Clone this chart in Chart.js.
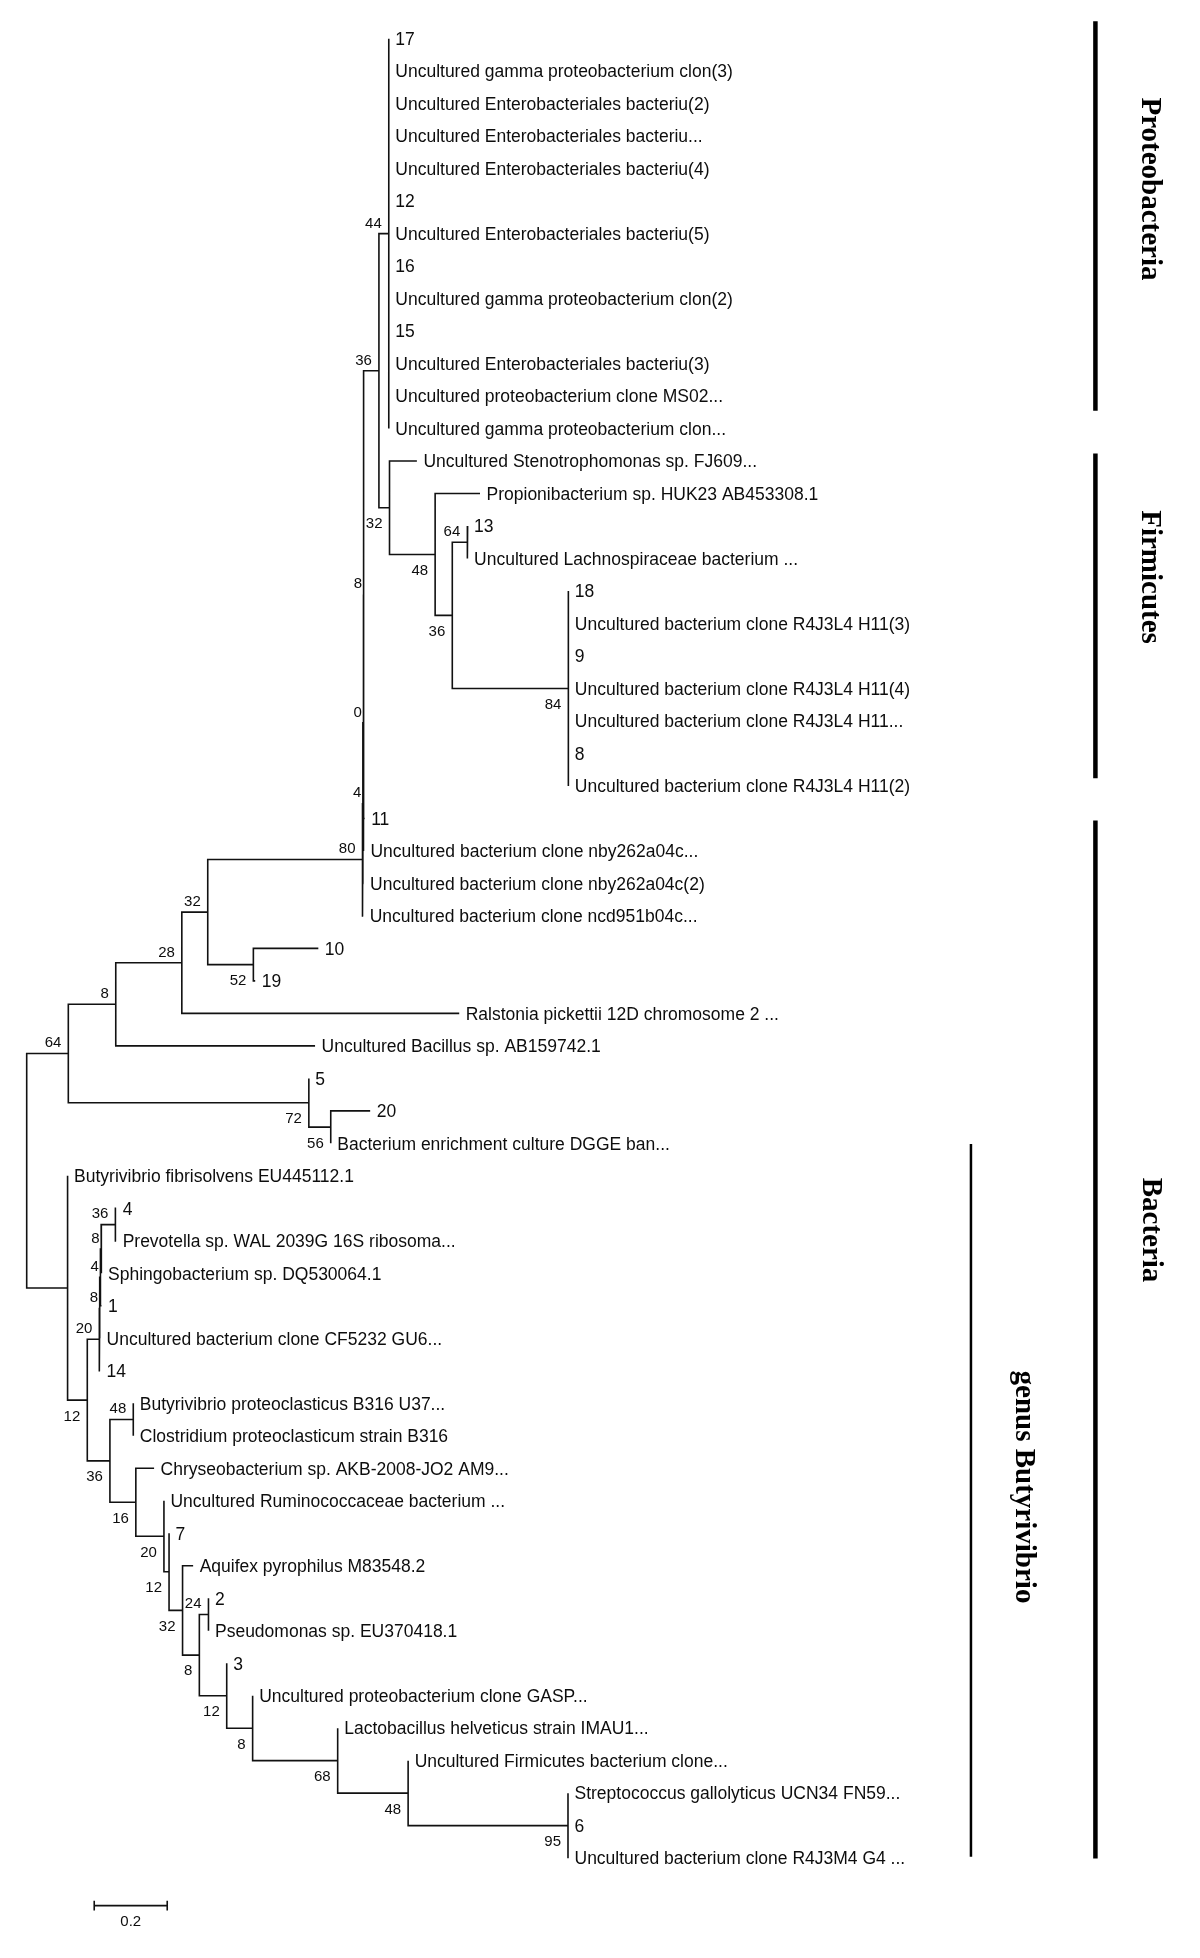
<!DOCTYPE html>
<html>
<head>
<meta charset="utf-8">
<title>Phylogenetic tree</title>
<script src="https://cdn.jsdelivr.net/npm/chart.js"></script>
<style>
  html, body { margin: 0; padding: 0; background: #fff; }
  #wrap { width: 1200px; height: 1958px; position: relative; }
</style>
</head>
<body>
<div id="wrap"><canvas id="tree"></canvas></div>
<script>
// Leaves, top to bottom
const leafNames = [
    '17', 'Uncultured gamma proteobacterium clon(3)', 'Uncultured Enterobacteriales bacteriu(2)',
    'Uncultured Enterobacteriales bacteriu...', 'Uncultured Enterobacteriales bacteriu(4)', '12',
    'Uncultured Enterobacteriales bacteriu(5)', '16', 'Uncultured gamma proteobacterium clon(2)', '15',
    'Uncultured Enterobacteriales bacteriu(3)', 'Uncultured proteobacterium clone MS02...',
    'Uncultured gamma proteobacterium clon...', 'Uncultured Stenotrophomonas sp. FJ609...',
    'Propionibacterium sp. HUK23 AB453308.1', '13', 'Uncultured Lachnospiraceae bacterium ...',
    '18', 'Uncultured bacterium clone R4J3L4 H11(3)', '9', 'Uncultured bacterium clone R4J3L4 H11(4)',
    'Uncultured bacterium clone R4J3L4 H11...', '8', 'Uncultured bacterium clone R4J3L4 H11(2)',
    '11', 'Uncultured bacterium clone nby262a04c...', 'Uncultured bacterium clone nby262a04c(2)',
    'Uncultured bacterium clone ncd951b04c...', '10', '19', 'Ralstonia pickettii 12D chromosome 2 ...',
    'Uncultured Bacillus sp. AB159742.1', '5', '20', 'Bacterium enrichment culture DGGE ban...',
    'Butyrivibrio fibrisolvens EU445112.1', '4', 'Prevotella sp. WAL 2039G 16S ribosoma...',
    'Sphingobacterium sp. DQ530064.1', '1', 'Uncultured bacterium clone CF5232 GU6...', '14',
    'Butyrivibrio proteoclasticus B316 U37...', 'Clostridium proteoclasticum strain B316',
    'Chryseobacterium sp. AKB-2008-JO2 AM9...', 'Uncultured Ruminococcaceae bacterium ...', '7',
    'Aquifex pyrophilus M83548.2', '2', 'Pseudomonas sp. EU370418.1', '3',
    'Uncultured proteobacterium clone GASP...', 'Lactobacillus helveticus strain IMAU1...',
    'Uncultured Firmicutes bacterium clone...', 'Streptococcus gallolyticus UCN34 FN59...', '6',
    'Uncultured bacterium clone R4J3M4 G4 ...'
];

// distance of each leaf tip from the root (substitutions/site)
const leafDepth = [
    0.992, 0.992, 0.992, 0.992, 0.992, 0.992, 0.992, 0.992, 0.992, 0.992, 0.992, 0.992, 0.992,
    1.069, 1.242, 1.208, 1.208,
    1.484, 1.484, 1.484, 1.484, 1.484, 1.484, 1.484,
    0.926, 0.924, 0.923, 0.922,
    0.799, 0.626, 1.185, 0.790, 0.773, 0.941, 0.833,
    0.112, 0.245, 0.245, 0.205, 0.205, 0.201, 0.201,
    0.292, 0.292, 0.349, 0.376, 0.390, 0.456, 0.498, 0.498, 0.548, 0.619, 0.852, 1.045,
    1.483, 1.483, 1.483
];

// internal nodes: depth from root, children (L = leaf, N = node), bootstrap support
const nodeDepth = [
    0.000, 0.114, 0.244, 0.425, 0.496, 0.920, 0.921, 0.922, 0.923, 0.965,
    0.992, 0.994, 1.119, 1.166, 1.207, 1.484, 0.621, 0.773, 0.833, 0.112,
    0.166, 0.199, 0.200, 0.202, 0.204, 0.243, 0.228, 0.292, 0.299, 0.376,
    0.390, 0.427, 0.473, 0.498, 0.548, 0.619, 0.852, 1.045, 1.483
];
const nodeKids = [
    ['N1', 'N19'], ['N2', 'N17'], ['N3', 'L31'], ['N4', 'L30'], ['N5', 'N16'],
    ['N6', 'L27'], ['N7', 'L26'], ['N8', 'L25'], ['N9', 'L24'], ['N10', 'N11'],
    ['L0', 'L1', 'L2', 'L3', 'L4', 'L5', 'L6', 'L7', 'L8', 'L9', 'L10', 'L11', 'L12'],
    ['L13', 'N12'], ['L14', 'N13'], ['N14', 'N15'], ['L15', 'L16'],
    ['L17', 'L18', 'L19', 'L20', 'L21', 'L22', 'L23'],
    ['L28', 'L29'], ['L32', 'N18'], ['L33', 'L34'], ['L35', 'N20'],
    ['N21', 'N26'], ['N22', 'L41'], ['N23', 'L40'], ['N24', 'L39'], ['N25', 'L38'],
    ['L36', 'L37'], ['N27', 'N28'], ['L42', 'L43'], ['L44', 'N29'], ['L45', 'N30'],
    ['L46', 'N31'], ['L47', 'N32'], ['N33', 'N34'], ['L48', 'L49'], ['L50', 'N35'],
    ['L51', 'N36'], ['L52', 'N37'], ['L53', 'N38'], ['L54', 'L55', 'L56']
];
const nodeSupport = [
    null, 64, 8, 28, 32, 80, 4, 0, 8, 36,
    44, 32, 48, 36, 64, 84, 52, 72, 56, null,
    12, 20, 8, 4, 8, 36, 36, 48, 16, 20,
    12, 32, 8, 24, 12, 8, 68, 48, 95
];

// clade brackets on the right (in leaf-row units)
const cladeNames = ['Proteobacteria', 'Firmicutes', 'Bacteria', 'genus Butyrivibrio'];
const cladeFrom = [-0.54, 12.77, 24.06, 34.02];
const cladeTo = [11.45, 22.76, 56.01, 55.96];

const scaleBarLength = 0.2;

// ---- layout (pixels / positions) ----
const PX_PER_UNIT = 365;
const ROOT_PX = 26.7;
const ROW_PX = 32.49;
const FIRST_ROW_PX = 38.7;
const X_MIN = -ROOT_PX / PX_PER_UNIT;
const X_MAX = X_MIN + 1200 / PX_PER_UNIT;
const Y_MIN = -FIRST_ROW_PX / ROW_PX;
const Y_MAX = Y_MIN + 1958 / ROW_PX;

const cladeBarX = [2.928, 2.928, 2.928, 2.587];
const cladeBarWidth = [4.5, 4.5, 4.5, 2.5];
const cladeLabelX = [1142, 1142, 1143, 1015.5];   // baseline, px
const cladeLabelY = [189, 577, 1230, 1487];       // centre, px
const scaleBarX = 0.185;
const scaleBarRow = 57.46;
const scaleTick = 0.15;

// ---- build tree geometry ----
const nodeY = {};
function xOf(ref) {
    const i = +ref.slice(1);
    return ref[0] === 'L' ? leafDepth[i] : nodeDepth[i];
}
function yOf(ref) {
    const i = +ref.slice(1);
    if (ref[0] === 'L') return i;
    if (nodeY[i] === undefined) {
        const kids = nodeKids[i];
        nodeY[i] = (yOf(kids[0]) + yOf(kids[kids.length - 1])) / 2;
    }
    return nodeY[i];
}

const GAP = { x: null, y: null };
const branchPoints = [];
nodeKids.forEach((kids, n) => {
    const nx = nodeDepth[n];
    const first = kids[0];
    const last = kids[kids.length - 1];
    branchPoints.push(
        { x: xOf(first), y: yOf(first) }, { x: nx, y: yOf(first) },
        { x: nx, y: yOf(last) }, { x: xOf(last), y: yOf(last) }, GAP
    );
    kids.slice(1, -1).forEach(k => {
        branchPoints.push({ x: nx, y: yOf(k) }, { x: xOf(k), y: yOf(k) }, GAP);
    });
});

// parent lookup for label placement
const parentOf = {};
const isFirstChild = {};
nodeKids.forEach((kids, n) => {
    kids.forEach((k, j) => {
        if (k[0] === 'N') {
            parentOf[+k.slice(1)] = n;
            isFirstChild[+k.slice(1)] = j === 0;
        }
    });
});

const scaleBarPoints = [
    { x: scaleBarX, y: scaleBarRow - scaleTick }, { x: scaleBarX, y: scaleBarRow + scaleTick }, GAP,
    { x: scaleBarX, y: scaleBarRow }, { x: scaleBarX + scaleBarLength, y: scaleBarRow }, GAP,
    { x: scaleBarX + scaleBarLength, y: scaleBarRow - scaleTick },
    { x: scaleBarX + scaleBarLength, y: scaleBarRow + scaleTick }
];

const lineStyle = {
    showLine: true,
    pointRadius: 0,
    pointHoverRadius: 0,
    borderColor: '#111',
    spanGaps: false,
    borderCapStyle: 'butt',
    borderJoinStyle: 'miter'
};

const datasets = [
    { label: 'branches', data: branchPoints, borderWidth: 1.6, ...lineStyle },
    { label: 'scale', data: scaleBarPoints, borderWidth: 1.6, ...lineStyle }
];
cladeNames.forEach((name, i) => {
    datasets.push({
        label: name,
        data: [{ x: cladeBarX[i], y: cladeFrom[i] }, { x: cladeBarX[i], y: cladeTo[i] }],
        borderWidth: cladeBarWidth[i],
        ...lineStyle,
        borderColor: '#000'
    });
});

const SANS = '"Liberation Sans", Arial, sans-serif';

const treeText = {
    id: 'treeText',
    afterDatasetsDraw(chart) {
        const { ctx } = chart;
        const xs = chart.scales.x;
        const ys = chart.scales.y;
        ctx.save();
        ctx.fillStyle = '#0d0d0d';
        ctx.textBaseline = 'alphabetic';

        // leaf names
        ctx.font = '17.5px ' + SANS;
        ctx.textAlign = 'left';
        leafNames.forEach((name, i) => {
            ctx.fillText(name, xs.getPixelForValue(leafDepth[i]) + 6.5, ys.getPixelForValue(i) + 6.3);
        });

        // bootstrap values
        ctx.font = '15px ' + SANS;
        ctx.textAlign = 'right';
        nodeSupport.forEach((v, n) => {
            if (v === null) return;
            const px = xs.getPixelForValue(nodeDepth[n]);
            const py = ys.getPixelForValue(yOf('N' + n));
            const parentPx = xs.getPixelForValue(nodeDepth[parentOf[n]]);
            const dx = (px - parentPx) < 4 ? 1.5 : 7;
            const by = isFirstChild[n] ? py - 6.1 : py + 20.4;
            ctx.fillText(String(v), px - dx, by);
        });

        // scale bar label
        ctx.textAlign = 'center';
        ctx.fillText(String(scaleBarLength),
            xs.getPixelForValue(scaleBarX + scaleBarLength / 2),
            ys.getPixelForValue(scaleBarRow) + 20.7);

        // clade names, rotated
        ctx.fillStyle = '#000';
        ctx.font = 'bold 29px "Liberation Serif", "Times New Roman", serif';
        cladeNames.forEach((name, i) => {
            ctx.save();
            ctx.translate(cladeLabelX[i], cladeLabelY[i]);
            ctx.rotate(Math.PI / 2);
            ctx.textAlign = 'center';
            ctx.fillText(name, 0, 0);
            ctx.restore();
        });
        ctx.restore();
    }
};

new Chart(document.getElementById('tree'), {
    type: 'scatter',
    data: { datasets },
    options: {
        responsive: true,
        maintainAspectRatio: false,
        animation: false,
        devicePixelRatio: 1,
        layout: { padding: 0 },
        events: [],
        plugins: {
            legend: { display: false },
            tooltip: { enabled: false }
        },
        scales: {
            x: { type: 'linear', display: false, min: X_MIN, max: X_MAX },
            y: { type: 'linear', display: false, reverse: true, min: Y_MIN, max: Y_MAX }
        }
    },
    plugins: [treeText]
});
</script>
</body>
</html>
